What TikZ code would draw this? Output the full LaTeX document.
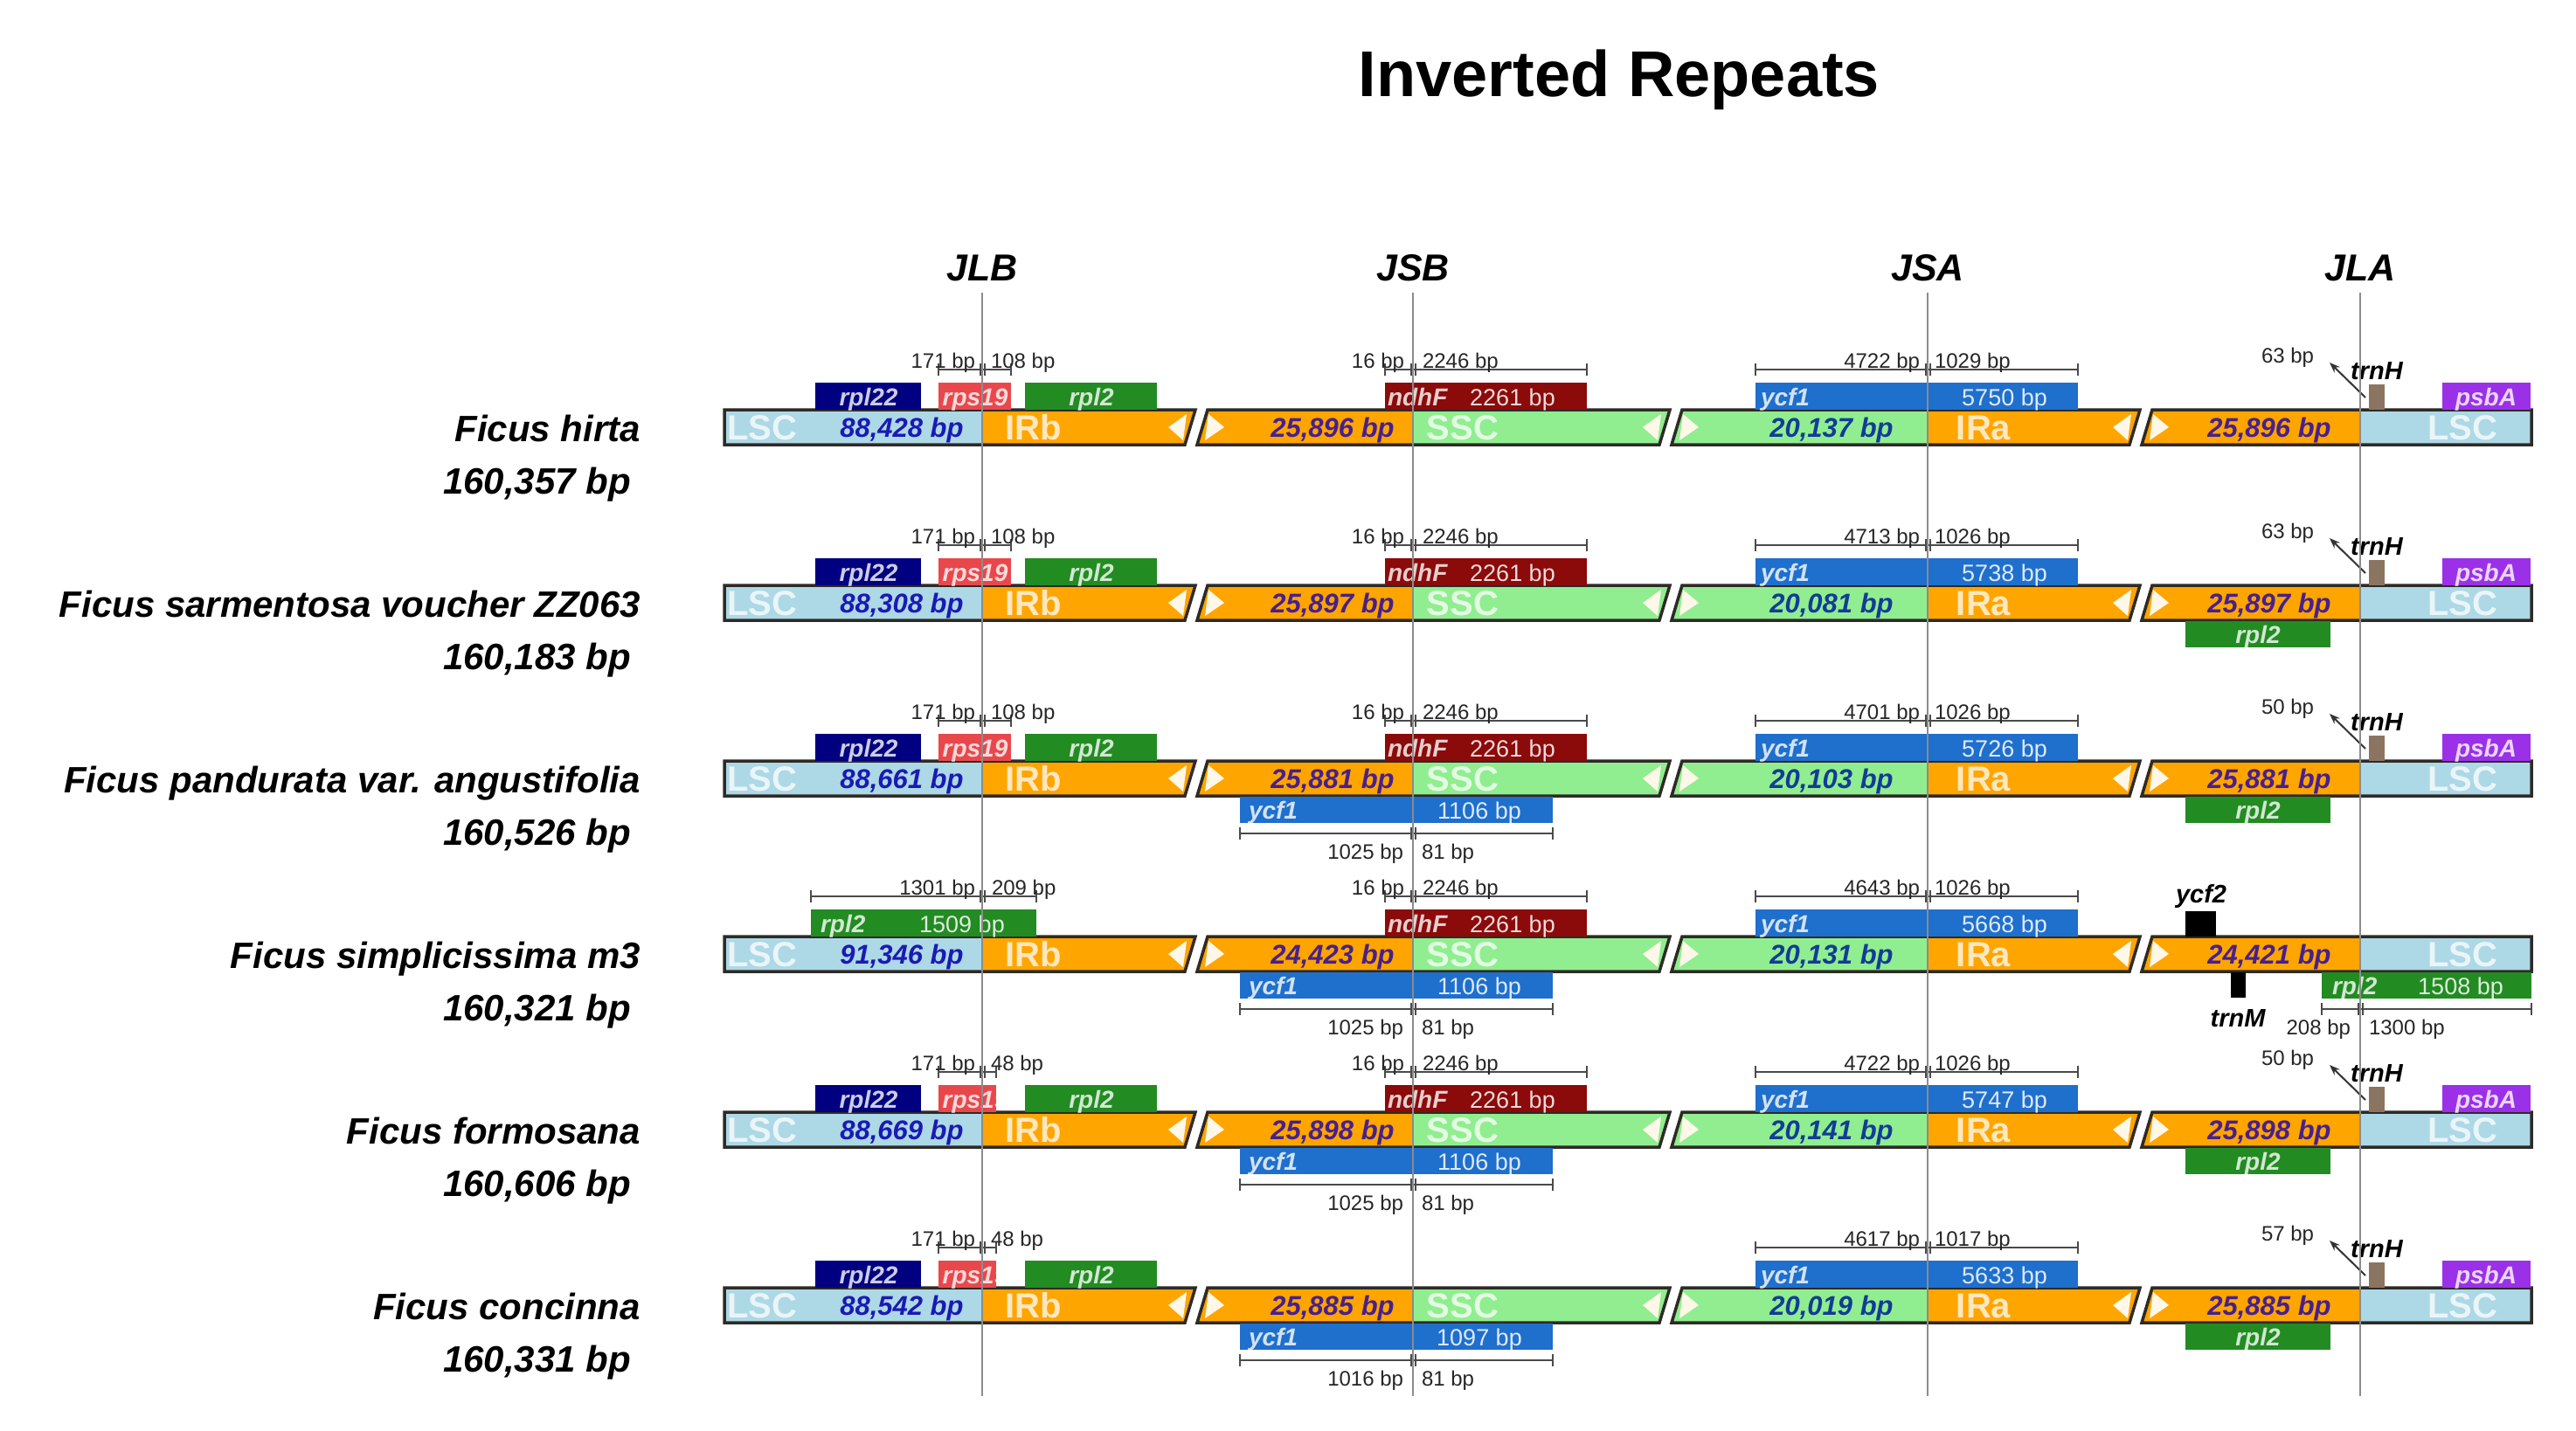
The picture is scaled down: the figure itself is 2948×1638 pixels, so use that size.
\documentclass[tikz,border=0pt]{standalone}
\usepackage{fontspec}
\setmainfont{Liberation Sans}
\usetikzlibrary{arrows.meta}
\definecolor{clsc}{HTML}{ADD8E6}
\definecolor{cir}{HTML}{FFA500}
\definecolor{cssc}{HTML}{90EE90}
\definecolor{cborder}{HTML}{2E2A26}
\definecolor{clen1}{HTML}{1A1AB4}
\definecolor{clen2}{HTML}{48208C}
\definecolor{clen3}{HTML}{123C96}
\definecolor{crpl22}{HTML}{000080}
\definecolor{crps19}{HTML}{E8484C}
\definecolor{crpl2}{HTML}{228B22}
\definecolor{cndhF}{HTML}{8B0A0A}
\definecolor{cycf1}{HTML}{1F6FCC}
\definecolor{ctrnH}{HTML}{8B7560}
\definecolor{cpsbA}{HTML}{9A30E8}
\definecolor{cjl}{HTML}{8C8C8C}
\definecolor{cbrk}{HTML}{4A4A4A}
\definecolor{cchev}{HTML}{FFF8E8}
\tikzset{
 every node/.style={inner sep=0pt, outer sep=0pt},
 bartxt/.style={font=\bfseries\fontsize{40}{40}\selectfont, text=white, text opacity=0.75, anchor=base},
 lenA/.style={font=\bfseries\itshape\fontsize{31}{31}\selectfont, text=clen1, anchor=base},
 lenB/.style={font=\bfseries\itshape\fontsize{31}{31}\selectfont, text=clen2, anchor=base},
 lenC/.style={font=\bfseries\itshape\fontsize{31}{31}\selectfont, text=clen3, anchor=base},
 gtxt/.style={font=\bfseries\itshape\fontsize{28}{28}\selectfont, text=white, text opacity=0.8, anchor=base},
 gbp/.style={font=\fontsize{27}{27}\selectfont, text=white, text opacity=0.85, anchor=base},
 bplbl/.style={font=\fontsize{24}{24}\selectfont, text=black!85},
 gname/.style={font=\bfseries\itshape\fontsize{29}{29}\selectfont, text=black, anchor=base},
 spname/.style={font=\bfseries\itshape\fontsize{42}{42}\selectfont, anchor=base east},
 jlab/.style={font=\bfseries\itshape\fontsize{43}{43}\selectfont, anchor=base},
 brkline/.style={draw=cbrk, line width=2pt},
 barb/.style={draw=cborder, line width=3.5pt, line join=miter},
 jline/.style={draw=cjl, line width=2.5pt},
 ptr/.style={draw=black!80, line width=2pt, -{Stealth[length=12pt,width=9pt]}},
}
% bracket: x1, xj, x2, y
\newcommand\Brk[4]{%
 \draw[brkline] (#1,#4) -- (#3,#4);
 \draw[brkline] (#1,#4-7) -- (#1,#4+7);
 \draw[brkline] (#3,#4-7) -- (#3,#4+7);
 \draw[brkline] (#2-2.5,#4-7) -- (#2-2.5,#4+7);
 \draw[brkline] (#2+2.5,#4-7) -- (#2+2.5,#4+7);
}
% chevrons at a break with centre c
\newcommand\Chev[1]{%
 \fill[cchev] (#1-25,0) -- (#1-4,-15) -- (#1-8,15) -- cycle;
 \fill[cchev] (#1+21,-15) -- (#1+39,0) -- (#1+17,15) -- cycle;
}
\newcommand\IRbars{%
 \fill[clsc] (829,-20) rectangle (1124,20);
 \fill[cir] (1124,-20) -- (1368,-20) -- (1356,20) -- (1124,20) -- cycle;
 \fill[cir] (1382,-20) -- (1617,-20) -- (1617,20) -- (1370,20) -- cycle;
 \fill[cssc] (1617,-20) -- (1911,-20) -- (1899,20) -- (1617,20) -- cycle;
 \fill[cssc] (1925,-20) -- (2206,-20) -- (2206,20) -- (1913,20) -- cycle;
 \fill[cir] (2206,-20) -- (2449,-20) -- (2437,20) -- (2206,20) -- cycle;
 \fill[cir] (2463,-20) -- (2701,-20) -- (2701,20) -- (2451,20) -- cycle;
 \fill[clsc] (2701,-20) rectangle (2897,20);
 \Chev{1362}
 \Chev{1905}
 \Chev{2443}
 \draw[barb] (829,-20) -- (1368,-20) -- (1356,20) -- (829,20) -- cycle;
 \draw[barb] (1382,-20) -- (1911,-20) -- (1899,20) -- (1370,20) -- cycle;
 \draw[barb] (1925,-20) -- (2449,-20) -- (2437,20) -- (1913,20) -- cycle;
 \draw[barb] (2463,-20) -- (2897,-20) -- (2897,20) -- (2451,20) -- cycle;
}
% prefix, species, total, len1, len2, len3, len4
\newcommand\IRtexts[7]{%
 \node[spname] (#1sp) at (733,16) {#2};
 \node[spname] (#1tot) at (722,76) {#3};
 \node[bartxt] (#1lscA) at (872,14) {LSC};
 \node[lenA] (#1lenA) at (1032,11) {#4};
 \node[bartxt] (#1irb) at (1183,14) {IRb};
 \node[lenB] (#1lenB) at (1525,11) {#5};
 \node[bartxt] (#1ssc) at (1674,14) {SSC};
 \node[lenC] (#1lenC) at (2096,11) {#6};
 \node[bartxt] (#1ira) at (2270,14) {IRa};
 \node[lenB] (#1lenD) at (2597,11) {#7};
 \node[bartxt] (#1lscB) at (2818,14) {LSC};
}
% prefix, rps19 right x, left label, right label
\newcommand\JLBstd[4]{%
 \fill[crpl22] (933,-51) rectangle (1054,-20);
 \node[gtxt] (#1rpl22) at (994,-25) {rpl22};
 \begin{scope}
  \clip (1074,-51) rectangle (#2,-20);
  \fill[crps19] (1074,-51) rectangle (#2,-20);
  \node[gtxt] (#1rps19) at (1116,-25) {rps19};
 \end{scope}
 \fill[crpl2] (1173,-51) rectangle (1324,-20);
 \node[gtxt] (#1rpl2) at (1249,-25) {rpl2};
 \Brk{1074}{1124}{#2}{-66}
 \node[bplbl, anchor=base east] (#1b1) at (1116,-68) {#3};
 \node[bplbl, anchor=base west] (#1b2) at (1134,-68) {#4};
}
\newcommand\JSBndhF[1]{%
 \fill[cndhF] (1585,-51) rectangle (1816,-20);
 \node[gtxt, anchor=base west] (#1ndhF) at (1588,-25) {ndhF};
 \node[gbp] (#1ndhFbp) at (1731,-25) {2261 bp};
 \Brk{1585}{1617}{1816}{-66}
 \node[bplbl, anchor=base east] (#1n1) at (1607,-68) {16 bp};
 \node[bplbl, anchor=base west] (#1n2) at (1628,-68) {2246 bp};
}
% prefix, gene bp, left, right
\newcommand\JSBycf[4]{%
 \fill[cycf1] (1419,21) rectangle (1777,51);
 \node[gtxt, anchor=base west] (#1ycfB) at (1429,46) {ycf1};
 \node[gbp] (#1ycfBbp) at (1693,46) {#2};
 \Brk{1419}{1617}{1777}{63}
 \node[bplbl, anchor=base east] (#1y1) at (1606,92) {#3};
 \node[bplbl, anchor=base west] (#1y2) at (1627,92) {#4};
}
% prefix, gene bp, left, right
\newcommand\JSAycf[4]{%
 \fill[cycf1] (2009,-51) rectangle (2378,-20);
 \node[gtxt, anchor=base west] (#1ycfA) at (2015,-25) {ycf1};
 \node[gbp] (#1ycfAbp) at (2294,-25) {#2};
 \Brk{2009}{2206}{2378}{-66}
 \node[bplbl, anchor=base east] (#1a1) at (2197,-68) {#3};
 \node[bplbl, anchor=base west] (#1a2) at (2214,-68) {#4};
}
% prefix, bp label
\newcommand\JLAstd[2]{%
 \fill[ctrnH] (2711,-49) rectangle (2729,-20);
 \node[gname] (#1trnH) at (2720,-55) {trnH};
 \coordinate (#1tA) at (2707,-34);
 \coordinate (#1tB) at (2666,-74);
 \draw[ptr] (#1tA) -- (#1tB);
 \node[bplbl, anchor=base] (#1h) at (2618,-74) {#2};
 \fill[cpsbA] (2795,-51) rectangle (2896,-20);
 \node[gtxt] (#1psbA) at (2845,-25) {psbA};
}
\newcommand\JLArpl[1]{%
 \fill[crpl2] (2501,21) rectangle (2667,51);
 \node[gtxt] (#1rplB) at (2584,46) {rpl2};
}
\begin{document}
\begin{tikzpicture}[x=1pt,y=-1pt]
\fill[white] (0,0) rectangle (2948,1638);
\useasboundingbox (0,0) rectangle (2948,1638);
\node[font=\bfseries\fontsize{74}{74}\selectfont, anchor=base] (title) at (1853,110) {Inverted Repeats};
\node[jlab] (JLB) at (1124,321) {JLB};
\node[jlab] (JSB) at (1617,321) {JSB};
\node[jlab] (JSA) at (2206,321) {JSA};
\node[jlab] (JLA) at (2701,321) {JLA};

% Row 1
\begin{scope}[shift={(0,489)}]
 \IRbars
 \IRtexts{r1}{Ficus hirta}{160,357 bp}{88,428 bp}{25,896 bp}{20,137 bp}{25,896 bp}
 \JLBstd{r1}{1157}{171 bp}{108 bp}
 \JSBndhF{r1}
 \JSAycf{r1}{5750 bp}{4722 bp}{1029 bp}
 \JLAstd{r1}{63 bp}
\end{scope}
% Row 2
\begin{scope}[shift={(0,690)}]
 \IRbars
 \IRtexts{r2}{Ficus sarmentosa voucher ZZ063}{160,183 bp}{88,308 bp}{25,897 bp}{20,081 bp}{25,897 bp}
 \JLBstd{r2}{1157}{171 bp}{108 bp}
 \JSBndhF{r2}
 \JSAycf{r2}{5738 bp}{4713 bp}{1026 bp}
 \JLAstd{r2}{63 bp}
 \JLArpl{r2}
\end{scope}
% Row 3
\begin{scope}[shift={(0,891)}]
 \IRbars
 \IRtexts{r3}{Ficus pandurata var. angustifolia}{160,526 bp}{88,661 bp}{25,881 bp}{20,103 bp}{25,881 bp}
 \JLBstd{r3}{1157}{171 bp}{108 bp}
 \JSBndhF{r3}
 \JSBycf{r3}{1106 bp}{1025 bp}{81 bp}
 \JSAycf{r3}{5726 bp}{4701 bp}{1026 bp}
 \JLAstd{r3}{50 bp}
 \JLArpl{r3}
\end{scope}
% Row 4
\begin{scope}[shift={(0,1092)}]
 \IRbars
 \IRtexts{r4}{Ficus simplicissima m3}{160,321 bp}{91,346 bp}{24,423 bp}{20,131 bp}{24,421 bp}
 \fill[crpl2] (928,-51) rectangle (1186,-20);
 \node[gtxt, anchor=base west] (r4rpl2) at (939,-25) {rpl2};
 \node[gbp] (r4rpl2bp) at (1101,-25) {1509 bp};
 \Brk{928}{1124}{1186}{-66}
 \node[bplbl, anchor=base east] (r4b1) at (1116,-68) {1301 bp};
 \node[bplbl, anchor=base west] (r4b2) at (1135,-68) {209 bp};
 \JSBndhF{r4}
 \JSBycf{r4}{1106 bp}{1025 bp}{81 bp}
 \JSAycf{r4}{5668 bp}{4643 bp}{1026 bp}
 \fill[black] (2501,-49) rectangle (2536,-20);
 \node[gname] (r4ycf2) at (2519,-59) {ycf2};
 \fill[black] (2553,21) rectangle (2570,50);
 \node[gname] (r4trnM) at (2561,83) {trnM};
 \fill[crpl2] (2657,21) rectangle (2897,51);
 \node[gtxt, anchor=base west] (r4rplB) at (2669,46) {rpl2};
 \node[gbp] (r4rplBbp) at (2816,46) {1508 bp};
 \Brk{2657}{2701}{2897}{63}
 \node[bplbl, anchor=base east] (r4c1) at (2690,92) {208 bp};
 \node[bplbl, anchor=base west] (r4c2) at (2711,92) {1300 bp};
\end{scope}
% Row 5
\begin{scope}[shift={(0,1293)}]
 \IRbars
 \IRtexts{r5}{Ficus formosana}{160,606 bp}{88,669 bp}{25,898 bp}{20,141 bp}{25,898 bp}
 \JLBstd{r5}{1140}{171 bp}{48 bp}
 \JSBndhF{r5}
 \JSBycf{r5}{1106 bp}{1025 bp}{81 bp}
 \JSAycf{r5}{5747 bp}{4722 bp}{1026 bp}
 \JLAstd{r5}{50 bp}
 \JLArpl{r5}
\end{scope}
% Row 6
\begin{scope}[shift={(0,1494)}]
 \IRbars
 \IRtexts{r6}{Ficus concinna}{160,331 bp}{88,542 bp}{25,885 bp}{20,019 bp}{25,885 bp}
 \JLBstd{r6}{1140}{171 bp}{48 bp}
 \JSBycf{r6}{1097 bp}{1016 bp}{81 bp}
 \JSAycf{r6}{5633 bp}{4617 bp}{1017 bp}
 \JLAstd{r6}{57 bp}
 \JLArpl{r6}
\end{scope}

% junction lines
\foreach \nm/\xx in {LB/1124, SB/1617, SA/2206, LA/2701}{
 \coordinate (top\nm) at (\xx,335);
 \coordinate (bot\nm) at (\xx,1598);
 \draw[jline] (top\nm) -- (bot\nm);
}
\end{tikzpicture}
\end{document}
